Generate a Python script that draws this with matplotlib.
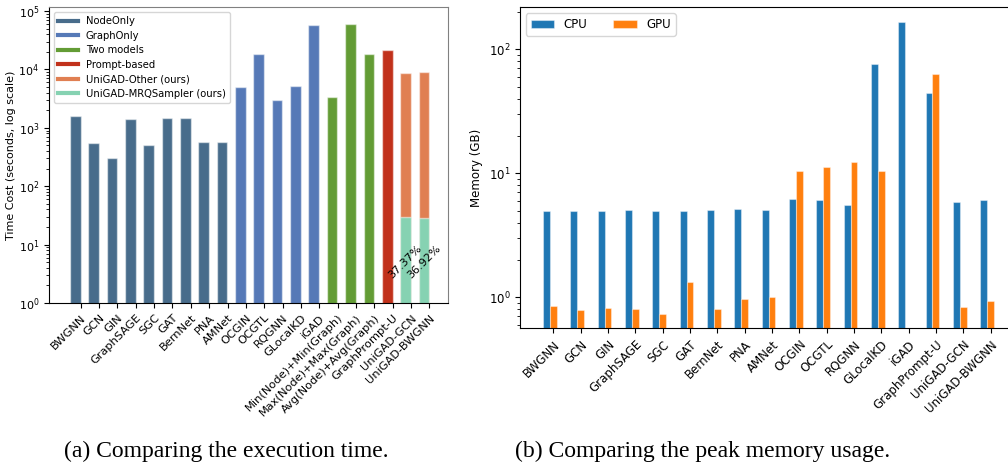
import matplotlib
matplotlib.use("Agg")
import matplotlib.pyplot as plt
import numpy as np
from matplotlib.lines import Line2D

# (a) execution time, seconds
methods_a = ['BWGNN', 'GCN', 'GIN', 'GraphSAGE', 'SGC', 'GAT', 'BernNet', 'PNA', 'AMNet',
             'OCGIN', 'OCGTL', 'RQGNN', 'GLocalKD', 'iGAD',
             'Min(Node)+Min(Graph)', 'Max(Node)+Max(Graph)', 'Avg(Node)+Avg(Graph)',
             'GraphPrompt-U', 'UniGAD-GCN', 'UniGAD-BWGNN']
time_cost = [1590, 540, 310, 1400, 515, 1490, 1490, 565, 565,
             4920, 18300, 3020, 5200, 57500,
             3320, 60000, 18300,
             21500, 8800, 9000]
groups = ['NodeOnly'] * 9 + ['GraphOnly'] * 5 + ['Two models'] * 3 + ['Prompt-based'] + ['UniGAD-Other (ours)'] * 2
mrq_time = [29.3, 28.5]          # MRQSampler part of the two UniGAD bars
mrq_pct = ['37.37%', '36.92%']

group_names = ['NodeOnly', 'GraphOnly', 'Two models', 'Prompt-based',
               'UniGAD-Other (ours)', 'UniGAD-MRQSampler (ours)']
group_colors = ['#486c8b', '#5679b7', '#639c35', '#c1311b', '#e07f52', '#86d2b2']

# (b) peak memory, GB
methods_b = ['BWGNN', 'GCN', 'GIN', 'GraphSAGE', 'SGC', 'GAT', 'BernNet', 'PNA', 'AMNet',
             'OCGIN', 'OCGTL', 'RQGNN', 'GLocalKD', 'iGAD', 'GraphPrompt-U',
             'UniGAD-GCN', 'UniGAD-BWGNN']
cpu_mem = [5.0, 5.0, 5.0, 5.05, 4.95, 5.0, 5.05, 5.12, 5.05,
           6.15, 6.08, 5.5, 76, 167, 44, 5.9, 6.08]
gpu_mem = [0.85, 0.79, 0.815, 0.80, 0.73, 1.33, 0.81, 0.965, 1.0,
           10.5, 11.3, 12.3, 10.5, np.nan, 63, 0.835, 0.94]

plt.rcParams['font.size'] = 8
fig = plt.figure(figsize=(10.08, 4.62), dpi=100)

# ---- left panel
ax1 = fig.add_axes([0.0486, 0.3442, 0.3958, 0.640])
color_of = dict(zip(group_names, group_colors))
x = np.arange(len(methods_a))
bw = 0.58
ax1.bar(x - 0.3, time_cost, width=bw, color=[color_of[g] for g in groups],
        edgecolor=(1, 1, 1, 0.5), linewidth=1)
ax1.bar(x[-2:] - 0.3, mrq_time, width=bw, color=group_colors[-1],
        edgecolor=(1, 1, 1, 0.5), linewidth=1)
for xi, p in zip(x[-2:], mrq_pct):
    ax1.text(xi - 0.3, 5, p, rotation=45, ha='center', va='center', fontsize=8)
ax1.set_yscale('log')
ax1.set_ylim(1, 1.16e5)
ax1.set_xlim(-1.73, 20.01)
ax1.set_xticks(x)
ax1.set_xticklabels(methods_a, rotation=45, ha='right', rotation_mode='anchor', fontsize=8.2)
ax1.set_ylabel('Time Cost (seconds, log scale)', labelpad=2)
ax1.spines['top'].set_color('0.5')
ax1.spines['right'].set_color('0.5')
handles = [Line2D([0], [0], color=c, lw=3) for c in group_colors]
ax1.legend(handles, group_names, loc='upper left', fontsize=7.2, labelspacing=0.45)

# ---- right panel
ax2 = fig.add_axes([0.5159, 0.2894, 0.489, 0.6948])
x2 = np.arange(len(methods_b))
w2 = 0.25
ax2.bar(x2 - w2, cpu_mem, width=w2, color='tab:blue', label='CPU',
        edgecolor=(1, 1, 1, 0.4), linewidth=0.8)
ax2.bar(x2, gpu_mem, width=w2, color='tab:orange', label='GPU',
        edgecolor=(1, 1, 1, 0.4), linewidth=0.8)
ax2.set_yscale('log')
ax2.set_ylim(0.562, 218)
ax2.set_xlim(-1.22, 16.82)
ax2.set_xticks(x2)
ax2.set_xticklabels(methods_b, rotation=45, ha='right', rotation_mode='anchor', fontsize=8.5)
ax2.tick_params(axis='y', labelsize=8.5)
ax2.set_ylabel('Memory (GB)', fontsize=8.5)
ax2.legend(loc='upper left', ncol=2, fontsize=8.5, columnspacing=2.2)

# captions
fig.text(0.2247, 0.024, '(a) Comparing the execution time.', ha='center', va='center',
         family='Liberation Serif', fontsize=17)
fig.text(0.6974, 0.024, '(b) Comparing the peak memory usage.', ha='center', va='center',
         family='Liberation Serif', fontsize=17)

fig.savefig('out.png', dpi=100)
